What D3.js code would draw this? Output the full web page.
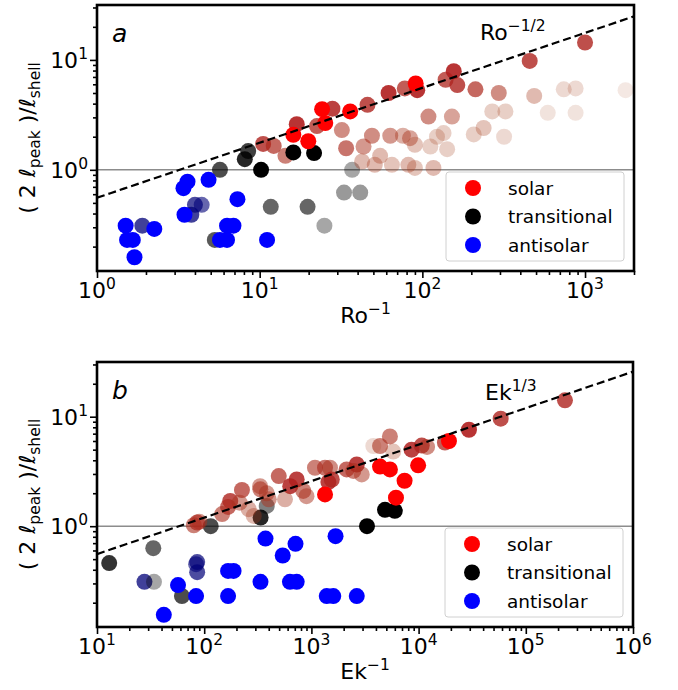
<!DOCTYPE html>
<html>
<head>
<meta charset="utf-8">
<script src="https://cdn.jsdelivr.net/npm/d3@7"></script>
<style>
  body { margin: 0; background: #fff; }
  svg { font-family: "DejaVu Sans", sans-serif; }
</style>
</head>
<body>
<script>
'use strict';
// panel a : Ro^-1 vs (2 l_peak)/l_shell, [x, y] or [x, y, alpha]
const roSolar = [[16.1,2.08],[19.9,1.82],[24.2,3.56],[25.3,2.66],[36,3.4],[91,6.1]];
const roSolarFaded = [
  [10.5,1.72,0.8],[12.2,1.65,0.7],[14.4,1.34,0.6],[16.9,2.6,0.9],[22.5,2.5,0.75],[28,3.6,0.85],
  [46,3.9,0.8],[62,5.0,0.9],[78,5.5,0.75],[93,5.3,0.9],[139,6.6,0.75],[156,7.9,0.9],[164,5.9,0.8],
  [212,5.4,0.7],[295,5.0,0.55],[457,9.8,0.8],[1000,14.4,0.8],[487,4.7,0.35],[740,5.4,0.2],
  [875,5.5,0.2],[1775,5.3,0.12],[269,3.4,0.25],[324,3.4,0.25],[590,3.3,0.15],[875,3.3,0.15],
  [109,3.05,0.55],[152,3.05,0.45],[238,2.4,0.3],[207,2.1,0.25],[318,2.0,0.2],[32,2.3,0.55],
  [34,1.57,0.65],[43.5,1.63,0.5],[49,2.04,0.55],[63.5,2.04,0.5],[76,2.04,0.4],[84,1.94,0.45],
  [90,1.69,0.3],[55,1.34,0.35],[42.6,1.19,0.35],[51,1.11,0.35],[65,1.11,0.3],[82,1.11,0.35],
  [90,1.04,0.3],[117,1.04,0.35],[112,1.63,0.25],[123,2.0,0.25],[135,2.16,0.25],[142,1.54,0.25]
];
const roTransitional = [[10.2,1.0],[16.1,1.44],[21.6,1.42]];
const roTransitionalFaded = [[8.1,1.25,0.85],[8.5,1.48,0.75],[5.7,1.0,0.7],[5.3,0.23,0.65],[11.7,0.46,0.6],
  [19.7,0.46,0.6],[25,0.31,0.35],[33,0.62,0.4],[41.5,0.62,0.4],[37,1.0,0.35]];
const roAntisolar = [[1.5,0.31],[1.53,0.23],[1.66,0.23],[1.7,0.16],[2.25,0.29],[3.6,0.78],[3.4,0.68],
  [4.85,0.81],[7.3,0.54],[3.45,0.39],[6.3,0.31],[6.9,0.31],[5.7,0.23],[6.3,0.23],[11.1,0.23]];
const roAntisolarFaded = [[1.9,0.31,0.75],[4.0,0.48,0.7],[4.4,0.48,0.6],[3.8,0.39,0.75]];

// panel b : Ek^-1 vs (2 l_peak)/l_shell
const ekSolar = [[1340,1.95],[4370,3.5],[5400,3.3],[7400,2.6],[6150,1.82],[9900,3.6],[19200,6.0]];
const ekSolarFaded = [
  [80,1.02,0.6],[90,1.1,0.5],[86,1.08,0.7],[147,1.29,0.6],[175,1.7,0.8],[167,1.5,0.7],[225,2.14,0.7],
  [214,1.64,0.5],[260,1.43,0.4],[334,2.17,0.6],[400,1.76,0.5],[496,2.87,0.7],[635,2.32,0.85],
  [290,1.24,0.35],[729,2.67,0.85],[840,2.1,0.6],[900,1.88,0.5],[567,1.76,0.4],[1080,3.42,0.6],
  [1340,3.42,0.65],[1490,3.42,0.55],[1440,2.53,0.85],[1550,2.67,0.8],[2130,3.3,0.7],[2650,3.66,0.85],
  [2950,2.97,0.5],[2460,3.2,0.6],[4370,5.4,0.6],[3780,5.4,0.2],[5400,6.6,0.6],[5800,4.8,0.3],
  [332,2.32,0.5],[383,2.0,0.5],[8600,5.0,0.85],[10700,5.45,0.8],[12000,5.3,0.55],[17600,5.8,0.75],
  [29500,7.6,0.9],[58300,9.6,0.8],[232000,14.1,0.8]
];
const ekTransitional = [[3300,1.0],[4860,1.41],[6000,1.38]];
const ekTransitionalFaded = [[13,0.46,0.8],[33.5,0.63,0.6],[34,0.31,0.35],[62,0.23,0.7],[115,1.0,0.7],
  [336,1.2,0.85],[383,1.53,0.5]];
const ekAntisolar = [[42,0.155],[57,0.29],[84,0.23],[167,0.39],[188,0.39],[167,0.23],[335,0.31],[373,0.77],
  [540,0.54],[711,0.69],[631,0.31],[729,0.31],[1390,0.23],[1600,0.23],[1680,0.81],[2650,0.23]];
const ekAntisolarFaded = [[27.7,0.31,0.75],[86,0.47,0.7],[86,0.38,0.7],[84,0.45,0.6]];

const legendNames = ['solar', 'transitional', 'antisolar'];
const legendColors = ['#ff0000', '#000000', '#0000ff'];
const yDomain = [0.12, 31.6];
const yTicks = [1, 10];
const roTicks = [1, 10, 100, 1000];
const ekTicks = [10, 100, 1000, 10000, 100000, 1000000];

// faded solar runs: brownish when pale, firebrick when strong
const solarFadeColor = d3.scaleLinear().domain([0.2, 0.9]).range(['#a3401c', '#b01e1e']).clamp(true);

const svg = d3.select(document.body).append('svg')
  .attr('width', 678).attr('height', 690);

drawPanel({
  id: 'a', left: 97, right: 634, top: 5, bottom: 271,
  xDomain: [1, 2000], xTicks: roTicks, xLabel: ['Ro', '\u22121'],
  fit: { c: 0.557, k: 1 / 2, label: ['Ro', '\u22121/2'], lx: 480, ly: 40 },
  groups: [
    { pts: roAntisolarFaded, color: () => '#000078' },
    { pts: roTransitionalFaded, color: () => '#000000' },
    { pts: roSolarFaded, color: solarFadeColor },
    { pts: roAntisolar, color: () => '#0000ff' },
    { pts: roTransitional, color: () => '#000000' },
    { pts: roSolar, color: () => '#ff0000' }
  ]
});
drawPanel({
  id: 'b', left: 97, right: 633, top: 362, bottom: 627,
  xDomain: [10, 1e6], xTicks: ekTicks, xLabel: ['Ek', '\u22121'],
  fit: { c: 0.258, k: 1 / 3, label: ['Ek', '1/3'], lx: 485, ly: 400 },
  groups: [
    { pts: ekAntisolarFaded, color: () => '#000078' },
    { pts: ekTransitionalFaded, color: () => '#000000' },
    { pts: ekSolarFaded, color: solarFadeColor },
    { pts: ekAntisolar, color: () => '#0000ff' },
    { pts: ekTransitional, color: () => '#000000' },
    { pts: ekSolar, color: () => '#ff0000' }
  ]
});

function supText(sel, base, exp, size, supSize, shift){
  sel.append('tspan').text(base).attr('font-size', size);
  sel.append('tspan').text(exp).attr('font-size', supSize).attr('dy', -shift);
}

function drawPanel(cfg){
  const x = d3.scaleLog().domain(cfg.xDomain).range([cfg.left, cfg.right]);
  const y = d3.scaleLog().domain(yDomain).range([cfg.bottom, cfg.top]);
  const g = svg.append('g').attr('id', 'panel-' + cfg.id);

  g.append('clipPath').attr('id', 'clip-' + cfg.id)
    .append('rect')
    .attr('x', cfg.left).attr('y', cfg.top)
    .attr('width', cfg.right - cfg.left).attr('height', cfg.bottom - cfg.top);
  const plot = g.append('g').attr('clip-path', 'url(#clip-' + cfg.id + ')');

  // grey reference line at 1
  plot.append('line')
    .attr('x1', cfg.left).attr('x2', cfg.right)
    .attr('y1', y(1)).attr('y2', y(1))
    .attr('stroke', '#8c8c8c').attr('stroke-width', 1.6);

  // points
  cfg.groups.forEach(function(grp){
    plot.append('g').selectAll('circle')
      .data(grp.pts).enter()
      .append('circle')
      .attr('cx', d => x(d[0]))
      .attr('cy', d => y(d[1]))
      .attr('r', 8)
      .attr('fill', d => grp.color(d.length > 2 ? d[2] : 1))
      .attr('fill-opacity', d => d.length > 2 ? d[2] : 1);
  });

  // power law line
  const xs = d3.range(0, 41).map(i => cfg.xDomain[0] * Math.pow(cfg.xDomain[1] / cfg.xDomain[0], i / 40));
  const line = d3.line().x(d => x(d)).y(d => y(cfg.fit.c * Math.pow(d, cfg.fit.k)));
  plot.append('path')
    .attr('d', line(xs))
    .attr('fill', 'none').attr('stroke', '#000')
    .attr('stroke-width', 2.2).attr('stroke-dasharray', '8,4');

  // legend
  const lg = g.append('g');
  const lx0 = cfg.right - 188, ly0 = cfg.bottom - 99;
  lg.append('rect')
    .attr('x', lx0).attr('y', ly0).attr('width', 178).attr('height', 89)
    .attr('rx', 3).attr('fill', '#fff').attr('fill-opacity', 0.8)
    .attr('stroke', '#d0d0d0').attr('stroke-width', 1);
  legendNames.forEach(function(name, i){
    const cy = ly0 + 16 + i * 28.5;
    lg.append('circle').attr('cx', lx0 + 27).attr('cy', cy).attr('r', 8).attr('fill', legendColors[i]);
    lg.append('text').attr('x', lx0 + 62).attr('y', cy + 6.5)
      .attr('font-size', 18.5).text(name);
  });

  // axes
  const minorX = x.ticks().filter(d => cfg.xTicks.indexOf(d) < 0);
  const minorY = y.ticks().filter(d => yTicks.indexOf(d) < 0);
  g.append('g').attr('transform', `translate(0,${cfg.bottom})`)
    .call(d3.axisBottom(x).tickValues(minorX).tickSize(4).tickFormat(''));
  g.append('g').attr('transform', `translate(0,${cfg.bottom})`)
    .call(d3.axisBottom(x).tickValues(cfg.xTicks).tickSize(7).tickFormat(''));
  g.append('g').attr('transform', `translate(${cfg.left},0)`)
    .call(d3.axisLeft(y).tickValues(minorY).tickSize(4).tickFormat(''));
  g.append('g').attr('transform', `translate(${cfg.left},0)`)
    .call(d3.axisLeft(y).tickValues(yTicks).tickSize(7).tickFormat(''));
  g.selectAll('.domain').remove();
  g.selectAll('.tick line').attr('stroke', '#000').attr('stroke-width', 1.6);

  cfg.xTicks.forEach(function(d){
    const t = g.append('text').attr('x', x(d)).attr('y', cfg.bottom + 27)
      .attr('text-anchor', 'middle');
    supText(t, '10', String(Math.round(Math.log10(d))), 22, 15.5, 9);
  });
  yTicks.forEach(function(d){
    const t = g.append('text').attr('x', cfg.left - 9).attr('y', y(d) + 8)
      .attr('text-anchor', 'end');
    supText(t, '10', String(Math.round(Math.log10(d))), 22, 15.5, 9);
  });

  // frame
  g.append('rect')
    .attr('x', cfg.left).attr('y', cfg.top)
    .attr('width', cfg.right - cfg.left).attr('height', cfg.bottom - cfg.top)
    .attr('fill', 'none').attr('stroke', '#000').attr('stroke-width', 2.6);

  // labels
  const xl = g.append('text').attr('x', (cfg.left + cfg.right) / 2).attr('y', cfg.bottom + 52)
    .attr('text-anchor', 'middle');
  supText(xl, cfg.xLabel[0], cfg.xLabel[1], 22, 15.5, 9);

  const fl = g.append('text').attr('x', cfg.fit.lx).attr('y', cfg.fit.ly);
  supText(fl, cfg.fit.label[0], cfg.fit.label[1], 22, 15.5, 9);

  g.append('text').attr('x', cfg.left + 15).attr('y', cfg.top + 37)
    .attr('font-size', 25).attr('font-style', 'italic').text(cfg.id);

  const cy = (cfg.top + cfg.bottom) / 2;
  const yl = g.append('text')
    .attr('transform', `translate(35,${cy}) rotate(-90)`)
    .attr('text-anchor', 'middle').attr('font-size', 22);
  yl.append('tspan').text('( 2 \u2113');
  yl.append('tspan').text('peak').attr('font-size', 15.5).attr('dy', 5);
  yl.append('tspan').text(' )/\u2113').attr('dy', -5);
  yl.append('tspan').text('shell').attr('font-size', 15.5).attr('dy', 5);
}
</script>
</body>
</html>
